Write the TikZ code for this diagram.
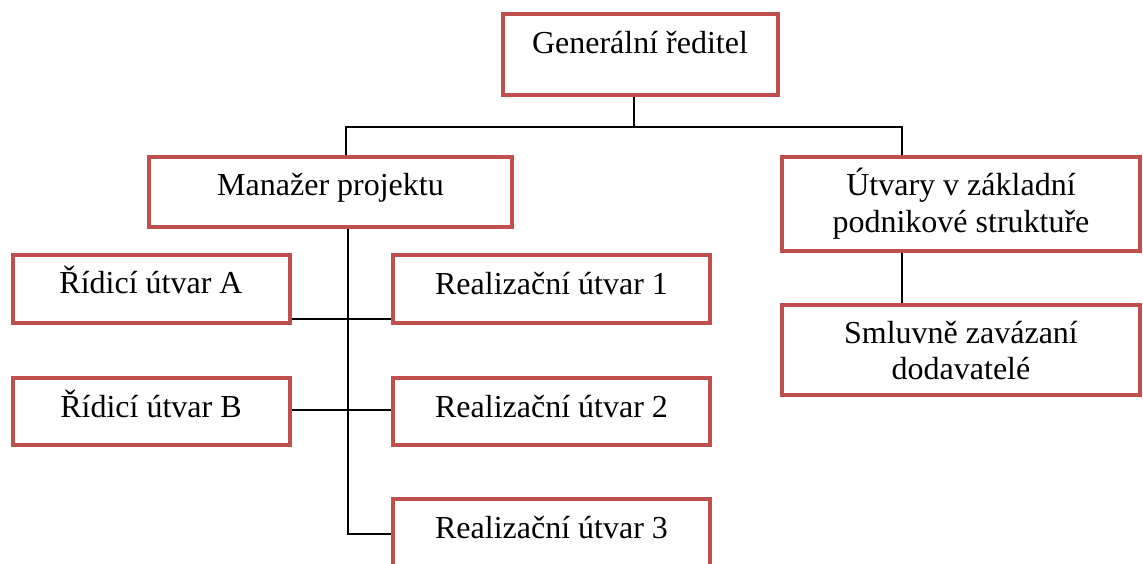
\documentclass[tikz,border=0pt]{standalone}
\usepackage{fontspec}
\setmainfont{Liberation Serif}
\usetikzlibrary{fit,calc}
\definecolor{boxred}{HTML}{C0504D}
\begin{document}
\begin{tikzpicture}[x={(0.75pt,0)}, y={(0,-0.75pt)},
  box/.style={draw=boxred, line width=3pt, inner sep=0pt, fill=white},
  label/.style={anchor=base, inner sep=0pt, font=\fontsize{24}{28}\selectfont},
  conn/.style={draw=black, line width=1.5pt}]
\useasboundingbox (0,0) rectangle (1143,564);
% connectors first, boxes drawn over their ends
\coordinate (busL) at (346,127);
\coordinate (busR) at (902,127);
\coordinate (trunk) at (348,534);
% boxes
\node[box, fit={(503,14) (778,95)}] (gr) {};
\node[box, fit={(149,157) (512,227)}] (mp) {};
\node[box, fit={(782,157) (1140,251)}] (ut) {};
\node[box, fit={(782,305) (1140,395)}] (sm) {};
\node[box, fit={(13,255) (290,323)}] (ra) {};
\node[box, fit={(13,378) (290,445)}] (rb) {};
\node[box, fit={(393,255) (710,323)}] (r1) {};
\node[box, fit={(393,378) (710,445)}] (r2) {};
\node[box, fit={(393,499) (710,580)}] (r3) {};
% texts
\node[label] (grt) at (640,53) {Generální ředitel};
\node[label] (mpt) at (330.5,195) {Manažer projektu};
\node[label] (ut1) at (961,195) {Útvary v základní};
\node[label] (ut2) at (961,232) {podnikové struktuře};
\node[label] (sm1) at (961,343) {Smluvně zavázaní};
\node[label] (sm2) at (961,379) {dodavatelé};
\node[label] (rat) at (151,293) {Řídicí útvar A};
\node[label] (rbt) at (151,417) {Řídicí útvar B};
\node[label] (r1t) at (551.5,294) {Realizační útvar 1};
\node[label] (r2t) at (551.5,417) {Realizační útvar 2};
\node[label] (r3t) at (551.5,538) {Realizační útvar 3};
% connectors
\draw[conn] (gr.south -| 634,0) -- (634,127);
\draw[conn] (mp.north -| busL) -- (busL) -- (busR) -- (ut.north -| busR);
\draw[conn] (mp.south -| trunk) -- (trunk) -- (r3.west |- trunk);
\draw[conn] (ra.east |- 0,319) -- (r1.west |- 0,319);
\draw[conn] (rb.east |- 0,410) -- (r2.west |- 0,410);
\draw[conn] (ut.south -| busR) -- (sm.north -| busR);
\end{tikzpicture}
\end{document}
